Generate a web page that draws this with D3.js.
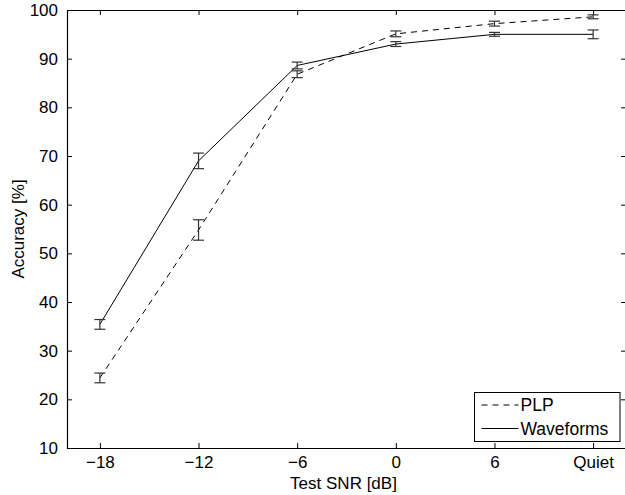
<!DOCTYPE html>
<html>
<head>
<meta charset="utf-8">
<script src="https://cdn.jsdelivr.net/npm/d3@7"></script>
<style>
  body { margin: 0; background: #fff; }
  text { font-family: "Liberation Sans", Arial, Helvetica, sans-serif; fill: #000; }
</style>
</head>
<body>
<div id="chart"></div>
<script>
// x positions (Quiet is drawn at 12), tick labels
const snrValues = [-18, -12, -6, 0, 6, 12];
const snrLabels = ['\u221218', '\u221212', '\u22126', '0', '6', 'Quiet'];
const yTicks = [10, 20, 30, 40, 50, 60, 70, 80, 90, 100];

// accuracy [%] and error bar half-widths
const plpMean = [24.4, 54.8, 86.8, 95.1, 97.2, 98.6];
const plpErr = [1.0, 2.1, 0.7, 0.6, 0.5, 0.4];
const waveMean = [35.4, 69.0, 88.6, 93.0, 95.0, 95.0];
const waveErr = [1.0, 1.6, 0.7, 0.5, 0.4, 0.9];

const seriesNames = ['PLP', 'Waveforms'];

function drawChart() {
    let width = 625;
    let height = 495;
    let margin = {left: 67, top: 10, right: -1, bottom: 47};

    const svg = d3.select('#chart')
    .append('svg')
    .attr('width', width)
    .attr('height', height)

    let x = d3.scaleLinear().domain([-20, 14]).range([margin.left, width - margin.right]);
    let y = d3.scaleLinear().domain([10, 100]).range([height - margin.bottom, margin.top]);

    let series = [
        {name: seriesNames[0], mean: plpMean, err: plpErr, dash: '6,5'},
        {name: seriesNames[1], mean: waveMean, err: waveErr, dash: null}
    ];

    // axes box, ticks pointing inward
    let xAxis = d3.axisBottom(x).tickValues(snrValues).tickFormat((d, i) => snrLabels[i]).tickSizeInner(-5).tickSizeOuter(0).tickPadding(8);
    let yAxis = d3.axisLeft(y).tickValues(yTicks).tickSizeInner(-5).tickSizeOuter(0).tickPadding(9);

    let gx = svg.append('g').attr('transform', `translate(0, ${y(10)})`).call(xAxis);
    let gy = svg.append('g').attr('transform', `translate(${x(-20)}, 0)`).call(yAxis);
    let gxTop = svg.append('g').attr('transform', `translate(0, ${y(100)})`)
        .call(d3.axisTop(x).tickValues(snrValues).tickSizeInner(-5).tickSizeOuter(0).tickFormat(''));
    let gyRight = svg.append('g').attr('transform', `translate(${x(14)}, 0)`)
        .call(d3.axisRight(y).tickValues(yTicks).tickSizeInner(-5).tickSizeOuter(0).tickFormat(''));

    [gx, gy, gxTop, gyRight].forEach(g => {
        g.select('.domain').attr('stroke', '#000').attr('stroke-width', 1.2);
        g.selectAll('.tick line').attr('stroke', '#000').attr('stroke-width', 1);
        g.selectAll('.tick text').attr('font-size', 17).attr('font-family', '"Liberation Sans", Arial, sans-serif');
    });

    // lines
    let line = d3.line()
    .x((d, i) => x(snrValues[i]))
    .y((d) => y(d))

    series.forEach(s => {
        svg.append('path')
        .datum(s.mean)
        .attr('d', line)
        .attr('fill', 'none')
        .attr('stroke', '#000')
        .attr('stroke-width', 1)
        .attr('stroke-dasharray', s.dash)
    });

    // error bars
    series.forEach(s => {
        let g = svg.append('g').attr('stroke', '#333').attr('stroke-width', 1.2);
        s.mean.forEach((m, i) => {
            let cx = x(snrValues[i]);
            let top = y(m + s.err[i]);
            let bot = y(m - s.err[i]);
            g.append('line').attr('x1', cx).attr('x2', cx).attr('y1', top).attr('y2', bot);
            g.append('line').attr('x1', cx - 5.5).attr('x2', cx + 5.5).attr('y1', top).attr('y2', top);
            g.append('line').attr('x1', cx - 5.5).attr('x2', cx + 5.5).attr('y1', bot).attr('y2', bot);
        });
    });

    // axis labels
    svg.append('text')
    .attr('x', (x(-20) + x(14)) / 2 - 3)
    .attr('y', 489)
    .attr('text-anchor', 'middle')
    .attr('font-size', 17)
    .text('Test SNR [dB]')

    svg.append('text')
    .attr('transform', `translate(24, ${(y(10) + y(100)) / 2}) rotate(-90)`)
    .attr('text-anchor', 'middle')
    .attr('font-size', 17)
    .text('Accuracy [%]')

    // legend
    let legend = svg.append('g').attr('transform', 'translate(474.5, 392.5)');
    legend.append('rect')
    .attr('width', 145.5)
    .attr('height', 49)
    .attr('fill', '#fff')
    .attr('stroke', '#000')
    .attr('stroke-width', 1)

    series.forEach((s, i) => {
        let ly = 12.5 + i * 23.5;
        legend.append('line')
        .attr('x1', 7).attr('x2', 44).attr('y1', ly).attr('y2', ly)
        .attr('stroke', '#000').attr('stroke-width', 1)
        .attr('stroke-dasharray', s.dash)
        legend.append('text')
        .attr('x', 46)
        .attr('y', ly + 6)
        .attr('font-size', 17.5)
        .text(s.name)
    });
}

drawChart();
</script>
</body>
</html>
